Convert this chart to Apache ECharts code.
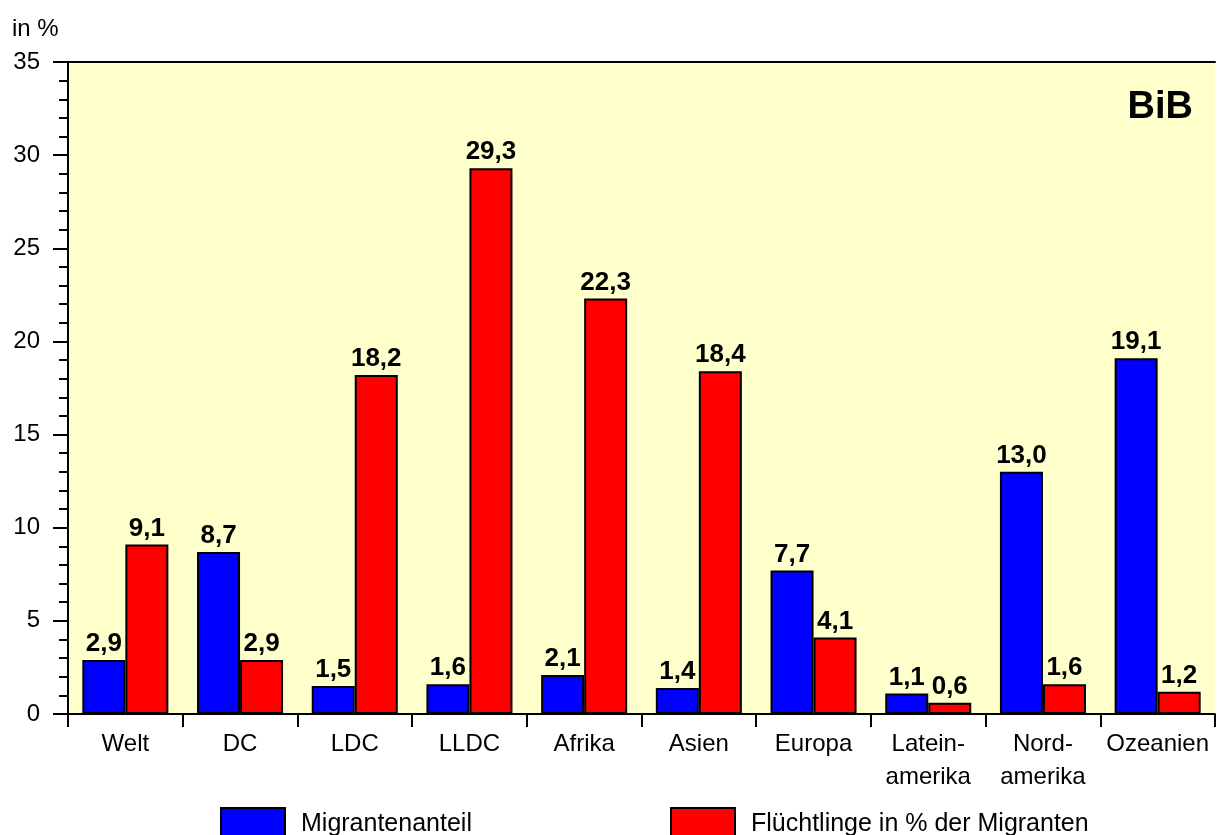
<!DOCTYPE html>
<html><head><meta charset="utf-8">
<script src="https://cdn.jsdelivr.net/npm/echarts@6/dist/echarts.min.js"></script>
<style>html,body{margin:0;padding:0;background:#fff}#c{width:1217px;height:835px}</style>
</head><body><div id="c"></div>
<script>
const categories = ['Welt','DC','LDC','LLDC','Afrika','Asien','Europa','Latein-\namerika','Nord-\namerika','Ozeanien'];
const migrantenanteil = [2.9, 8.7, 1.5, 1.6, 2.1, 1.4, 7.7, 1.1, 13.0, 19.1];
const fluechtlinge = [9.1, 2.9, 18.2, 29.3, 22.3, 18.4, 4.1, 0.6, 1.6, 1.2];
const seriesNames = ['Migrantenanteil', 'Flüchtlinge in % der Migranten'];

const FONT = 'Liberation Sans, Arial, sans-serif';
const chart = echarts.init(document.getElementById('c'), null, {renderer:'canvas'});
const lbl = {
  show: true, position: 'top', distance: 3, color: '#000', fontWeight: 'bold',
  fontSize: 26, fontFamily: FONT,
  formatter: p => p.value.toFixed(1).replace('.', ',')
};
const legendCommon = {
  top: 807, itemWidth: 64, itemHeight: 32, padding: 0, icon: 'rect', selectedMode: false,
  textStyle: { fontSize: 25, fontFamily: FONT, color: '#000', padding: [0, 0, 0, 11] }
};
chart.setOption({
  backgroundColor: '#fff',
  animation: false,
  grid: { left: 68, right: 2, top: 62, bottom: 121, show: true, backgroundColor: '#FFFFCC', borderWidth: 0 },
  graphic: [
    { type: 'text', left: 12, top: 17, style: { text: 'in %', font: '24px ' + FONT, fill: '#000' } },
    { type: 'text', right: 24, top: 89, style: { text: 'BiB', font: 'bold 38px ' + FONT, fill: '#000' } }
  ],
  legend: [
    Object.assign({ data: [seriesNames[0]], left: 220 }, legendCommon),
    Object.assign({ data: [seriesNames[1]], left: 670 }, legendCommon)
  ],
  xAxis: [{
    type: 'category', data: categories, position: 'bottom',
    axisLine: { show: true, lineStyle: { color: '#000', width: 2 } },
    axisTick: { show: true, length: 13, lineStyle: { color: '#000', width: 2 } },
    axisLabel: { color: '#000', fontSize: 24, fontFamily: FONT, margin: 14, lineHeight: 33, interval: 0 },
    splitLine: { show: false }
  }, {
    type: 'category', data: categories, position: 'top',
    axisLine: { show: true, lineStyle: { color: '#000', width: 2 } },
    axisTick: { show: false }, axisLabel: { show: false }, splitLine: { show: false }
  }],
  yAxis: {
    type: 'value', min: 0, max: 35, interval: 5,
    axisLine: { show: true, lineStyle: { color: '#000', width: 2 } },
    axisTick: { show: true, length: 15, lineStyle: { color: '#000', width: 2 } },
    minorTick: { show: true, splitNumber: 5, length: 9, lineStyle: { color: '#000', width: 2 } },
    axisLabel: { color: '#000', fontSize: 24, fontFamily: FONT, margin: 28 },
    splitLine: { show: false }
  },
  series: [
    { name: seriesNames[0], type: 'bar', data: migrantenanteil, barGap: '0%', barCategoryGap: '25%',
      itemStyle: { color: '#0000FF', borderColor: '#000', borderWidth: 2 }, label: lbl },
    { name: seriesNames[1], type: 'bar', data: fluechtlinge, barGap: '0%', barCategoryGap: '25%',
      itemStyle: { color: '#FF0000', borderColor: '#000', borderWidth: 2 }, label: lbl }
  ]
});
</script></body></html>
